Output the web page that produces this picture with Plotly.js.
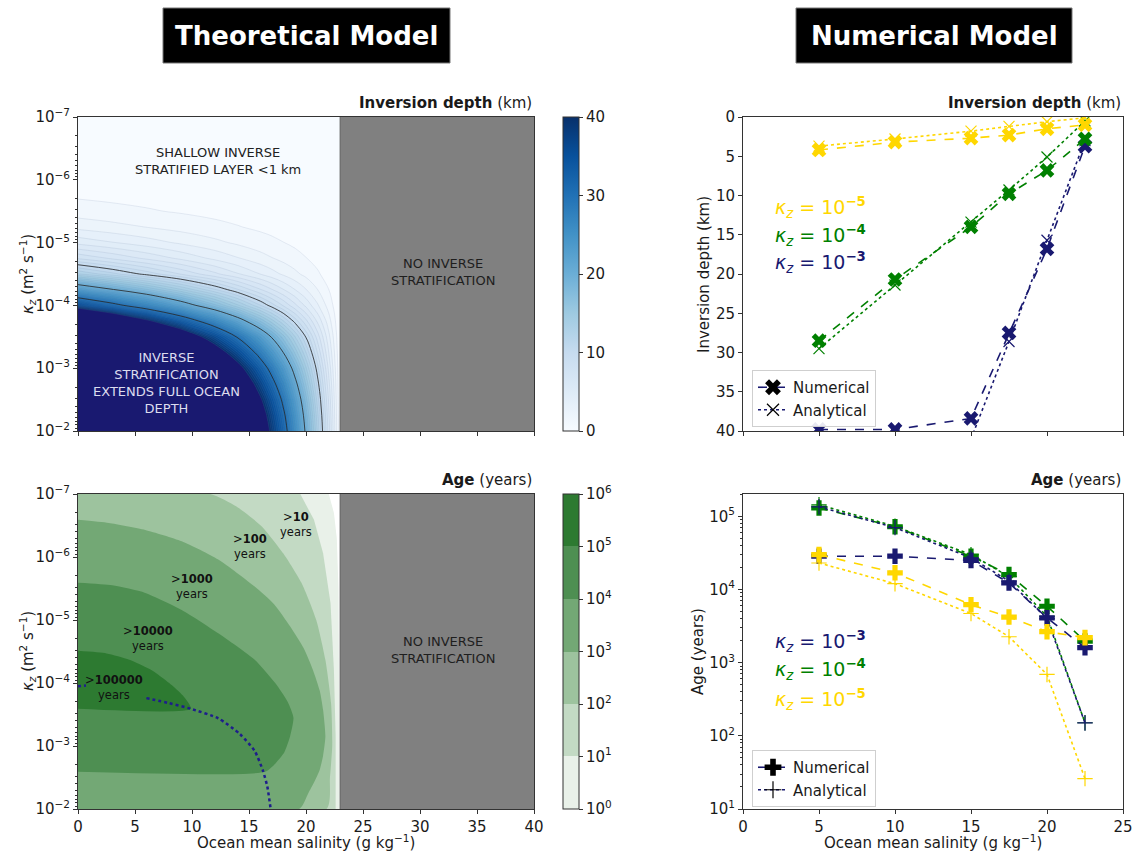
<!DOCTYPE html>
<html><head><meta charset="utf-8">
<script src="https://cdn.plot.ly/plotly-3.0.1.min.js"></script>
<style>html,body{margin:0;padding:0;background:#fff}#chart{width:1135px;height:853px}</style>
</head><body><div id="chart"></div>
<script>
// ================= DATA =================
// --- Theoretical model: inversion depth (km) on a salinity x log10(kz) grid ---
const salinityGrid = [0, 3, 6, 9, 12, 14, 16, 17, 18, 19, 20, 21, 22, 22.5, 23];
const log10KzGrid = [-7, -6.5, -6, -5.75, -5.5, -5.25, -5, -4.75, -4.5, -4.25, -4, -3.75, -3.5, -3.25, -3, -2.75, -2.5, -2.25, -2];
const inversionDepthKm = [
  [0.06, 0.05, 0.04, 0.04, 0.03, 0.02, 0.02, 0.02, 0.01, 0.01, 0.01, 0.01, 0.003, 0.001, 0],
  [0.16, 0.14, 0.12, 0.10, 0.08, 0.06, 0.05, 0.04, 0.04, 0.03, 0.02, 0.01, 0.007, 0.004, 0],
  [0.52, 0.45, 0.38, 0.32, 0.25, 0.20, 0.16, 0.14, 0.11, 0.09, 0.07, 0.05, 0.02, 0.01, 0],
  [0.86, 0.75, 0.64, 0.52, 0.41, 0.34, 0.26, 0.22, 0.19, 0.15, 0.11, 0.07, 0.04, 0.02, 0],
  [1.48, 1.29, 1.10, 0.90, 0.71, 0.58, 0.45, 0.39, 0.32, 0.26, 0.19, 0.13, 0.06, 0.03, 0],
  [2.67, 2.32, 1.97, 1.63, 1.28, 1.05, 0.81, 0.70, 0.58, 0.46, 0.35, 0.23, 0.12, 0.06, 0],
  [4.67, 4.06, 3.46, 2.84, 2.24, 1.83, 1.42, 1.22, 1.02, 0.81, 0.61, 0.41, 0.20, 0.10, 0],
  [7.87, 6.84, 5.81, 4.79, 3.76, 3.08, 2.40, 2.05, 1.71, 1.37, 1.03, 0.68, 0.34, 0.17, 0],
  [13.06, 11.35, 9.65, 7.95, 6.25, 5.11, 3.98, 3.41, 2.84, 2.27, 1.71, 1.14, 0.57, 0.28, 0],
  [23.3, 20.25, 17.22, 14.18, 11.15, 9.12, 7.10, 6.08, 5.07, 4.05, 3.05, 2.03, 1.01, 0.50, 0],
  [36.36, 31.61, 26.88, 22.12, 17.40, 14.23, 11.07, 9.48, 7.91, 6.32, 4.75, 3.16, 1.58, 0.78, 0],
  [55.65, 48.38, 41.14, 33.86, 26.63, 21.79, 16.95, 14.51, 12.11, 9.68, 7.28, 4.84, 2.42, 1.20, 0],
  [75.68, 65.79, 55.95, 46.05, 36.21, 29.63, 23.05, 19.74, 16.47, 13.16, 9.89, 6.58, 3.29, 1.63, 0],
  [92.01, 79.98, 68.01, 55.99, 44.02, 36.02, 28.02, 23.99, 20.03, 15.99, 12.03, 7.99, 3.99, 1.98, 0],
  [108.33, 94.17, 80.08, 65.92, 51.83, 42.41, 32.97, 28.25, 23.58, 18.83, 14.16, 9.42, 4.71, 2.34, 0],
  [121.69, 105.78, 89.95, 74.05, 58.22, 47.64, 37.06, 31.73, 26.49, 21.16, 15.91, 10.58, 5.29, 2.62, 0],
  [133.56, 116.1, 98.73, 81.27, 63.9, 52.29, 40.68, 34.83, 29.07, 23.22, 17.46, 11.61, 5.81, 2.88, 0],
  [142.46, 123.84, 105.31, 86.69, 68.16, 55.78, 43.39, 37.15, 31.01, 24.77, 18.62, 12.38, 6.19, 3.07, 0],
  [148.4, 129.0, 109.7, 90.3, 71.0, 58.1, 45.2, 38.7, 32.3, 25.8, 19.4, 12.9, 6.45, 3.2, 0]
];
const noInversionSalinity = [23, 40];

// --- Theoretical model: age band boundaries (salinity, log10 kz) ---
const ageGt1S = [0, 22.0, 22.45, 22.7, 22.85, 22.92, 22.95, 0];
const ageGt1K = [-7, -7, -6.7, -6.3, -5.5, -4.0, -2.0, -2.0];
const ageGt10S = [0, 19.5, 20.7, 21.5, 22.15, 22.45, 22.6, 22.6, 0];
const ageGt10K = [-7, -7, -6.59, -6.06, -5.27, -4.2, -3.15, -2.0, -2.0];
const ageGt100S = [0, 11.6, 13.9, 16.1, 18.0, 19.6, 20.9, 21.7, 22.2, 22.3, 22.1, 21.8, 0];
const ageGt100K = [-7, -7, -6.80, -6.49, -6.06, -5.59, -5.0, -4.37, -3.68, -3.0, -2.5, -2.0, -2.0];
const ageGt1000S = [0, 2.7, 5.9, 9.1, 12.3, 15.5, 17.2, 18.6, 19.8, 20.6, 21.2, 21.5, 21.7, 21.5, 21.2, 20.7, 20.2, 19.4, 0];
const ageGt1000K = [-6.59, -6.54, -6.43, -6.25, -5.96, -5.53, -5.25, -4.90, -4.55, -4.21, -3.88, -3.57, -3.15, -2.85, -2.62, -2.42, -2.25, -2.0, -2.0];
const ageGt1e4S = [0, 3, 5.9, 9.1, 12.3, 15.5, 17.3, 18.4, 18.9, 18.6, 18.1, 17.3, 16.4, 0];
const ageGt1e4K = [-5.59, -5.55, -5.43, -5.16, -4.79, -4.37, -4.0, -3.7, -3.45, -3.15, -2.9, -2.72, -2.59, -2.59];
const ageGt1e5S = [0, 2.5, 4.5, 6.5, 8, 9.2, 9.9, 0];
const ageGt1e5K = [-4.51, -4.47, -4.37, -4.2, -4.0, -3.8, -3.59, -3.59];
const ageBandLabels = ['>1', '>10', '>100', '>1000', '>10000', '>100000'];
// full-depth inversion boundary (dotted line)
const fullDepthS = [0, 0.7, null, 6.0, 8, 9.9, 12.3, 14.2, 15.5, 16.2, 16.6, 16.9];
const fullDepthK = [-3.95, -3.96, null, -3.76, -3.68, -3.59, -3.44, -3.19, -2.92, -2.62, -2.36, -2.0];

// --- Numerical model runs ---
const salinityRuns = [5, 10, 15, 17.5, 20, 22.5];
const depthNumKz5 = [4.2, 3.2, 2.7, 2.3, 1.5, 1.0];
const depthAnaKz5 = [3.7, 2.8, 1.8, 1.2, 0.6, 0.1];
const depthNumKz4 = [28.5, 20.7, 14.0, 9.8, 6.8, 2.8];
const depthAnaKz4 = [29.5, 21.4, 13.4, 9.3, 5.1, 0.5];
const depthNumKz3 = [39.8, 39.8, 38.4, 27.5, 16.8, 3.7];
const depthAnaKz3 = [null, null, 41, 28.6, 15.7, 3.0];
const ageNumKz5 = [30000, 16900, 6200, 4200, 2650, 2200];
const ageAnaKz5 = [23000, 12000, 4700, 2260, 690, 26];
const ageNumKz4 = [130000, 72000, 28500, 16000, 5900, 1970];
const ageAnaKz4 = [144000, 73000, 30000, 15000, 4300, 151];
const ageNumKz3 = [28500, 28500, 25000, 12300, 4100, 1600];
const ageAnaKz3 = [135000, 70000, 27000, 13000, 4000, 150];

const log10KzTicks = [-7, -6, -5, -4, -3, -2];
const depthCbarTicks = [0, 10, 20, 30, 40];
const ageCbarTicks = [0, 1, 2, 3, 4, 5, 6];
const ageAxisTicks = [10, 100, 1000, 10000, 100000];

// ================= STYLE =================
const W = 1135, H = 853;
const px = v => v / W, py = v => 1 - v / H;
const FONT = '"DejaVu Sans", Verdana, sans-serif';
const TXT = '#1a1a1a';
const NAVY = '#191970', GREEN = '#008000', GOLD = '#FFD700';
const GREY = '#808080';
const ageColors = ['#e9f1e9', '#c3dac4', '#9dc39e', '#73a875', '#4e8f52', '#2d7a31'];
const blues = ['#f7fbff', '#deebf7', '#c6dbef', '#9ecae1', '#6baed6', '#4292c6', '#2171b5', '#08519c', '#08306b'];
// fill colour scale: band L..L+1 gets Blues((L+0.5)/40); above 40 km -> midnight blue
const depthFillScale = blues.map((c, k) => [Math.max(0, k / 8 - 0.0125), c]);
depthFillScale.push([0.99, NAVY], [1, NAVY]);
const bluesBar = blues.map((c, k) => [k / 8, c]);
const ageBar = [];
ageColors.forEach((c, i) => { ageBar.push([i / 6, c], [(i + 1) / 6, c]); });

const sup = n => '10<sup>' + (n < 0 ? '−' + (-n) : n) + '</sup>';
const minorLog = [];
for (let n = -7; n < -2; n++) for (let k = 2; k <= 9; k++) minorLog.push(n + Math.log10(k));
const minorAge = [];
for (let n = 1; n <= 5; n++) for (let k = 2; k <= 9; k++) minorAge.push(k * Math.pow(10, n));

const XL = [px(78), px(534)], XR = [px(743), px(1123)];
const YT = [py(431), py(117)], YB = [py(809), py(494)];

const axBase = {showline: true, mirror: true, linecolor: '#333', linewidth: 1, ticks: 'outside', ticklen: 4,
  tickwidth: 1, tickcolor: '#333', showgrid: false, zeroline: false, tickfont: {size: 15, color: TXT, family: FONT}};

// ================= TRACES =================
const traces = [];
// top-left: inversion depth contour field (fills)
traces.push({type: 'contour', x: salinityGrid, y: log10KzGrid, z: inversionDepthKm, xaxis: 'x', yaxis: 'y',
  autocontour: false, contours: {start: 1, end: 40, size: 1, coloring: 'fill', showlines: false},
  colorscale: depthFillScale, showscale: false, line: {width: 0, smoothing: 0},
  hoverinfo: 'skip', showlegend: false});
// thin level lines every km
traces.push({type: 'contour', x: salinityGrid, y: log10KzGrid, z: inversionDepthKm, xaxis: 'x', yaxis: 'y',
  autocontour: false, contours: {start: 1, end: 40, size: 1, coloring: 'none'},
  showscale: false, line: {color: 'rgba(110,130,165,0.28)', width: 0.5, smoothing: 1}, hoverinfo: 'skip', showlegend: false});
// black lines every 10 km
traces.push({type: 'contour', x: salinityGrid, y: log10KzGrid, z: inversionDepthKm, xaxis: 'x', yaxis: 'y',
  autocontour: false, contours: {start: 10, end: 30, size: 10, coloring: 'none'},
  showscale: false, line: {color: '#262626', width: 0.8, smoothing: 1}, hoverinfo: 'skip', showlegend: false});
// colourbar for depth
traces.push({type: 'scatter', x: [null], y: [null], xaxis: 'x', yaxis: 'y', mode: 'markers', showlegend: false,
  hoverinfo: 'skip', marker: {color: [0], cmin: 0, cmax: 40, colorscale: bluesBar, showscale: true,
  colorbar: {x: px(563), xanchor: 'left', y: py(117), yanchor: 'top', len: 314, lenmode: 'pixels', thickness: 16,
    xpad: 0, ypad: 0, outlinewidth: 1, outlinecolor: '#333', tickmode: 'array', tickvals: depthCbarTicks,
    ticks: 'outside', ticklen: 4, tickcolor: '#333', tickfont: {size: 15, color: TXT, family: FONT}}}});

// bottom-left: age bands
const bands = [[ageGt1S, ageGt1K], [ageGt10S, ageGt10K], [ageGt100S, ageGt100K], [ageGt1000S, ageGt1000K], [ageGt1e4S, ageGt1e4K], [ageGt1e5S, ageGt1e5K]];
bands.forEach((b, i) => traces.push({type: 'scatter', x: b[0], y: b[1], xaxis: 'x3', yaxis: 'y3', mode: 'lines',
  fill: 'toself', fillcolor: ageColors[i],
  line: i < 2 ? {width: 0, color: ageColors[i]} : {width: 0, color: ageColors[i], shape: 'spline', smoothing: 0.6},
  name: ageBandLabels[i], hoverinfo: 'skip', showlegend: false}));
traces.push({type: 'scatter', x: fullDepthS, y: fullDepthK, xaxis: 'x3', yaxis: 'y3', mode: 'lines',
  line: {color: '#1e1e8c', width: 2.5, dash: 'dot', shape: 'spline', smoothing: 0.6}, hoverinfo: 'skip', showlegend: false, connectgaps: false});
traces.push({type: 'scatter', x: [null], y: [null], xaxis: 'x3', yaxis: 'y3', mode: 'markers', showlegend: false,
  hoverinfo: 'skip', marker: {color: [0], cmin: 0, cmax: 6, colorscale: ageBar, showscale: true,
  colorbar: {x: px(563), xanchor: 'left', y: py(494), yanchor: 'top', len: 315, lenmode: 'pixels', thickness: 16,
    xpad: 0, ypad: 0, outlinewidth: 1, outlinecolor: '#333', tickmode: 'array', tickvals: ageCbarTicks,
    ticktext: ageCbarTicks.map(sup), ticks: 'outside', ticklen: 4, tickcolor: '#333',
    tickfont: {size: 15, color: TXT, family: FONT}}}});

// right panels
function runPair(xa, ya, num, ana, color, symNum, symAna, sizeNum) {
  traces.push({type: 'scatter', x: salinityRuns, y: ana, xaxis: xa, yaxis: ya, mode: 'lines+markers',
    line: {color: color, width: 1.6, dash: 'dot'}, marker: {symbol: symAna, size: 11, color: color, line: {color: color, width: 1.2}},
    showlegend: false, hoverinfo: 'skip'});
  traces.push({type: 'scatter', x: salinityRuns, y: num, xaxis: xa, yaxis: ya, mode: 'lines+markers',
    line: {color: color, width: 1.6, dash: 'dash'}, marker: {symbol: symNum, size: sizeNum, color: color, line: {width: 0}},
    showlegend: false, hoverinfo: 'skip'});
}
runPair('x2', 'y2', depthNumKz3, depthAnaKz3, NAVY, 'x', 'x-thin', 13);
runPair('x2', 'y2', depthNumKz4, depthAnaKz4, GREEN, 'x', 'x-thin', 13);
runPair('x2', 'y2', depthNumKz5, depthAnaKz5, GOLD, 'x', 'x-thin', 13);
runPair('x4', 'y4', ageNumKz4, ageAnaKz4, GREEN, 'cross', 'cross-thin', 13);
runPair('x4', 'y4', ageNumKz3, ageAnaKz3, NAVY, 'cross', 'cross-thin', 13);
runPair('x4', 'y4', ageNumKz5, ageAnaKz5, GOLD, 'cross', 'cross-thin', 13);

// legend entries
[['legend', 'x2', 'y2', 'x', 'x-thin'], ['legend2', 'x4', 'y4', 'cross', 'cross-thin']].forEach(l => {
  traces.push({type: 'scatter', x: [null], y: [null], xaxis: l[1], yaxis: l[2], mode: 'lines+markers', name: 'Numerical',
    legend: l[0], line: {color: NAVY, width: 1.6, dash: 'dash'}, marker: {symbol: l[3], size: 14, color: '#000'}});
  traces.push({type: 'scatter', x: [null], y: [null], xaxis: l[1], yaxis: l[2], mode: 'lines+markers', name: 'Analytical',
    legend: l[0], line: {color: NAVY, width: 1.6, dash: 'dot'}, marker: {symbol: l[4], size: 12, color: '#000', line: {color: '#000', width: 1.2}}});
});

// ================= LAYOUT =================
const kzAxis = Object.assign({}, axBase, {range: [-2, -7], tickmode: 'array', tickvals: log10KzTicks,
  ticktext: log10KzTicks.map(sup), minor: {tickmode: 'array', tickvals: minorLog, ticks: 'outside', ticklen: 2, tickcolor: '#333'}});
const salAxisL = Object.assign({}, axBase, {range: [0, 40], tickmode: 'linear', tick0: 0, dtick: 5});
const salAxisR = Object.assign({}, axBase, {range: [0, 25], tickmode: 'linear', tick0: 0, dtick: 5});

const ann = [];
const A = o => ann.push(Object.assign({showarrow: false, font: {family: FONT, size: 15, color: TXT}}, o));
// headers
A({xref: 'paper', yref: 'paper', x: px(306.5), y: py(35.5), xanchor: 'center', yanchor: 'middle', text: '<b>Theoretical Model</b>', font: {family: FONT, size: 26, color: '#fff'}});
A({xref: 'paper', yref: 'paper', x: px(934), y: py(35.5), xanchor: 'center', yanchor: 'middle', text: '<b>Numerical Model</b>', font: {family: FONT, size: 26, color: '#fff'}});
// panel titles
A({xref: 'paper', yref: 'paper', x: px(534), y: py(114), xanchor: 'right', yanchor: 'bottom', text: '<b>Inversion depth</b> (km)'});
A({xref: 'paper', yref: 'paper', x: px(1123), y: py(114), xanchor: 'right', yanchor: 'bottom', text: '<b>Inversion depth</b> (km)'});
A({xref: 'paper', yref: 'paper', x: px(534), y: py(491), xanchor: 'right', yanchor: 'bottom', text: '<b>Age</b> (years)'});
A({xref: 'paper', yref: 'paper', x: px(1123), y: py(491), xanchor: 'right', yanchor: 'bottom', text: '<b>Age</b> (years)'});
// axis titles
const kzTitle = '<i>κ<sub>z</sub></i> (m<sup>2</sup> s<sup>−1</sup>)';
A({xref: 'paper', yref: 'paper', x: px(27), y: py(274), textangle: -90, xanchor: 'center', yanchor: 'middle', text: kzTitle});
A({xref: 'paper', yref: 'paper', x: px(27), y: py(651), textangle: -90, xanchor: 'center', yanchor: 'middle', text: kzTitle});
A({xref: 'paper', yref: 'paper', x: px(704), y: py(275), textangle: -90, xanchor: 'center', yanchor: 'middle', text: 'Inversion depth (km)'});
A({xref: 'paper', yref: 'paper', x: px(698), y: py(652), textangle: -90, xanchor: 'center', yanchor: 'middle', text: 'Age (years)'});
const salTitle = 'Ocean mean salinity (g kg<sup>−1</sup>)';
A({xref: 'paper', yref: 'paper', x: px(306), y: py(842), xanchor: 'center', yanchor: 'middle', text: salTitle});
A({xref: 'paper', yref: 'paper', x: px(933), y: py(842), xanchor: 'center', yanchor: 'middle', text: salTitle});
// in-panel texts (top-left)
A({xref: 'x', yref: 'y', x: 12.3, y: -6.3, text: 'SHALLOW INVERSE<br>STRATIFIED LAYER &lt;1 km', font: {family: FONT, size: 13, color: '#222'}});
A({xref: 'x', yref: 'y', x: 32, y: -4.53, text: 'NO INVERSE<br>STRATIFICATION', font: {family: FONT, size: 13, color: '#1e1e1e'}});
A({xref: 'x', yref: 'y', x: 7.8, y: -2.77, text: 'INVERSE<br>STRATIFICATION<br>EXTENDS FULL OCEAN<br>DEPTH', font: {family: FONT, size: 13, color: '#dcdcee'}});
// in-panel texts (bottom-left)
A({xref: 'x3', yref: 'y3', x: 32, y: -4.53, text: 'NO INVERSE<br>STRATIFICATION', font: {family: FONT, size: 13, color: '#1e1e1e'}});
const ageLabelS = [19.1, 15.1, 10.0, 6.1, 3.2];
const ageLabelK = [-6.52, -6.16, -5.53, -4.70, -3.93];
['10', '100', '1000', '10000', '100000'].forEach((t, i) =>
  A({xref: 'x3', yref: 'y3', x: ageLabelS[i], y: ageLabelK[i], text: '&gt;<b>' + t + '</b><br>years', font: {family: FONT, size: 11.5, color: '#111'}}));
// kz labels (right)
const kzLbl = e => '<i>κ<sub>z</sub></i> = 10<sup><b>−' + e + '</b></sup>';
A({xref: 'x2', yref: 'y2', x: 1.97, y: 11.5, xanchor: 'left', yanchor: 'middle', text: kzLbl(5), font: {family: FONT, size: 19, color: GOLD}});
A({xref: 'x2', yref: 'y2', x: 1.97, y: 15.1, xanchor: 'left', yanchor: 'middle', text: kzLbl(4), font: {family: FONT, size: 19, color: GREEN}});
A({xref: 'x2', yref: 'y2', x: 1.97, y: 18.5, xanchor: 'left', yanchor: 'middle', text: kzLbl(3), font: {family: FONT, size: 19, color: NAVY}});
A({xref: 'x4', yref: 'y4', x: 1.97, y: 3.295, xanchor: 'left', yanchor: 'middle', text: kzLbl(3), font: {family: FONT, size: 19, color: NAVY}});
A({xref: 'x4', yref: 'y4', x: 1.97, y: 2.909, xanchor: 'left', yanchor: 'middle', text: kzLbl(4), font: {family: FONT, size: 19, color: GREEN}});
A({xref: 'x4', yref: 'y4', x: 1.97, y: 2.5, xanchor: 'left', yanchor: 'middle', text: kzLbl(5), font: {family: FONT, size: 19, color: GOLD}});

const shapes = [
  {type: 'rect', xref: 'paper', yref: 'paper', x0: px(163), x1: px(450), y0: py(63), y1: py(8), fillcolor: '#000', line: {color: '#777', width: 1}},
  {type: 'rect', xref: 'paper', yref: 'paper', x0: px(796), x1: px(1072), y0: py(63), y1: py(8), fillcolor: '#000', line: {color: '#777', width: 1}},
  {type: 'rect', xref: 'x', yref: 'y', x0: noInversionSalinity[0], x1: noInversionSalinity[1], y0: -7, y1: -2, fillcolor: GREY, line: {width: 0}, layer: 'below'},
  {type: 'line', xref: 'x', yref: 'y', x0: noInversionSalinity[0], x1: noInversionSalinity[0], y0: -7, y1: -2, line: {color: '#666', width: 1.2}},
  {type: 'rect', xref: 'x3', yref: 'y3', x0: noInversionSalinity[0], x1: noInversionSalinity[1], y0: -7, y1: -2, fillcolor: GREY, line: {width: 0}, layer: 'below'},
  {type: 'line', xref: 'x3', yref: 'y3', x0: noInversionSalinity[0], x1: noInversionSalinity[0], y0: -7, y1: -2, line: {color: '#666', width: 1.2}}
];

const legBase = {xanchor: 'left', yanchor: 'top', bgcolor: 'rgba(255,255,255,0.9)', bordercolor: '#cfcfcf', borderwidth: 1,
  font: {family: FONT, size: 15, color: TXT}, itemwidth: 30, tracegroupgap: 0};

const layout = {
  width: W, height: H, margin: {l: 0, r: 0, t: 0, b: 0}, paper_bgcolor: '#fff', plot_bgcolor: '#fff',
  font: {family: FONT, size: 15, color: TXT}, hovermode: false, showlegend: true,
  xaxis: Object.assign({}, salAxisL, {domain: XL, anchor: 'y', showticklabels: false}),
  yaxis: Object.assign({}, kzAxis, {domain: YT, anchor: 'x'}),
  xaxis2: Object.assign({}, salAxisR, {domain: XR, anchor: 'y2', showticklabels: false}),
  yaxis2: Object.assign({}, axBase, {domain: YT, anchor: 'x2', range: [40, 0], tickmode: 'linear', tick0: 0, dtick: 5}),
  xaxis3: Object.assign({}, salAxisL, {domain: XL, anchor: 'y3'}),
  yaxis3: Object.assign({}, kzAxis, {domain: YB, anchor: 'x3'}),
  xaxis4: Object.assign({}, salAxisR, {domain: XR, anchor: 'y4'}),
  yaxis4: Object.assign({}, axBase, {domain: YB, anchor: 'x4', type: 'log', range: [1, 5.305], tickmode: 'array',
    tickvals: ageAxisTicks, ticktext: [1, 2, 3, 4, 5].map(sup),
    minor: {tickmode: 'array', tickvals: minorAge, ticks: 'outside', ticklen: 2, tickcolor: '#333'}}),
  legend: Object.assign({}, legBase, {x: px(752), y: py(370)}),
  legend2: Object.assign({}, legBase, {x: px(752), y: py(750)}),
  annotations: ann, shapes: shapes
};

Plotly.newPlot('chart', traces, layout, {displayModeBar: false, staticPlot: true});
</script>
</body></html>
